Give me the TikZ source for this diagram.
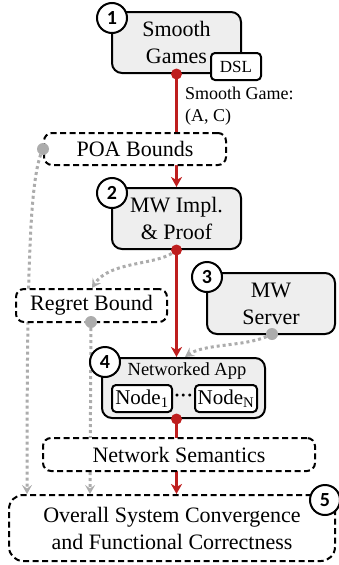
\documentclass[tikz,border=0pt]{standalone}
\usepackage{fontspec}
\setmainfont{Liberation Serif}
\newfontfamily\numfont{Carlito}
\usetikzlibrary{arrows.meta}
\pgfdeclarelayer{background}
\pgfsetlayers{background,main}
\definecolor{myred}{RGB}{190,30,30}
\definecolor{mygray}{RGB}{172,172,172}
\definecolor{boxfill}{RGB}{238,238,238}
\tikzset{
  solidbox/.style={draw=black, line width=2pt, fill=boxfill, rounded corners=10pt,
    align=center, inner sep=0pt, font=\fontsize{22}{27}\selectfont},
  dashbox/.style={draw=black, line width=2pt, fill=white, rounded corners=8pt,
    dash pattern=on 6pt off 3.5pt, align=center, inner sep=0pt,
    font=\fontsize{22}{27}\selectfont},
  smallbox/.style={draw=black, line width=2pt, fill=white, rounded corners=4pt,
    inner sep=0pt},
  numcirc/.style={circle, draw=black, line width=2pt, fill=white,
    minimum size=30pt, inner sep=0pt, font=\numfont\bfseries\fontsize{20}{20}\selectfont},
  redline/.style={draw=myred, line width=2.6pt, -{Stealth[length=10pt,width=11pt,inset=3pt]}},
  grayline/.style={draw=mygray, line width=3pt, dash pattern=on 3pt off 3pt,
    -{Stealth[length=9pt,width=10pt,inset=3.5pt]}},
  reddot/.style={circle, fill=myred, minimum size=11pt, inner sep=0pt},
  graydot/.style={circle, fill=mygray, minimum size=12pt, inner sep=0pt},
  lbl/.style={inner sep=0pt, font=\fontsize{18}{22}\selectfont, align=left}
}
\begin{document}
\begin{tikzpicture}[x=1pt,y=-1pt]
\useasboundingbox (0,0) rectangle (338,565);

% boxes
\node[solidbox, minimum width=129pt, minimum height=61pt] (b1) at (176.5,42.5) {Smooth\\Games};
\node[smallbox, minimum width=50pt, minimum height=27pt, font=\fontsize{17}{17}\selectfont] (dsl) at (236,66.5) {DSL};
\node[lbl, anchor=north west] (sg) at (185,87) {Smooth Game:\\(A, C)};

\node[dashbox, minimum width=182pt, minimum height=32pt] (poa) at (135,149) {POA Bounds};

\node[solidbox, minimum width=129pt, minimum height=61pt] (b2) at (176.5,218.5) {MW Impl.\\\& Proof};

\node[dashbox, minimum width=151pt, minimum height=33pt] (rb) at (91.5,305.5) {Regret Bound};

\node[solidbox, minimum width=128pt, minimum height=61pt] (b3) at (271,303.5) {MW\\Server};

\node[solidbox, minimum width=163pt, minimum height=60pt] (b4) at (183.5,388) {};
\node[inner sep=0pt, font=\fontsize{18.5}{18.5}\selectfont] (na) at (187,371) {Networked App};
\node[smallbox, minimum width=60pt, minimum height=27pt, font=\fontsize{21}{21}\selectfont] (n1) at (142,398.5) {Node\textsubscript{1}};
\node[smallbox, minimum width=62pt, minimum height=27pt, font=\fontsize{21}{21}\selectfont] (nN) at (226,398.5) {Node\textsubscript{N}};
\node[inner sep=0pt, font=\fontsize{18}{18}\selectfont\bfseries] (ell) at (183.5,398) {·\kern0.3pt·\kern0.3pt·};

\node[dashbox, minimum width=272pt, minimum height=33pt] (ns) at (179,454.5) {Network Semantics};

\node[dashbox, rounded corners=14pt, minimum width=326pt, minimum height=66pt] (b5) at (172,528) {Overall System Convergence\\and Functional Correctness};

% number circles
\node[numcirc] (c1) at (112,18) {1};
\node[numcirc] (c2) at (112,193) {2};
\node[numcirc] (c3) at (207,277) {3};
\node[numcirc] (c4) at (105,362) {4};
\node[numcirc] (c5) at (325,500) {5};

% dots
\node[reddot] (d1) at (b1.south) {};
\node[reddot] (d2) at (b2.south) {};
\node[reddot] (d4) at (d2 |- b4.south) {};
\node[graydot] (g1) at (poa.west) {};
\node[graydot] (g2) at (91,322) {};
\node[graydot] (g3) at (272,334) {};

\coordinate (t1) at (27,0 |- b5.north);
\coordinate (t2) at (90,0 |- b5.north);
\coordinate (t3) at (92,288);
\coordinate (t4) at (185,357);

% connectors
\begin{pgfonlayer}{background}
\draw[redline] (d1.center) -- (d1 |- b2.north);
\draw[redline] (d2.center) -- (d2 |- b4.north);
\draw[redline] (d4.center) -- (d4 |- b5.north);
\draw[grayline] (g1.center) .. controls (30,175) and (27,260) .. (t1);
\draw[grayline] (g2.center) -- (t2);
\draw[grayline] (d2.center) .. controls (160,266) and (110,260) .. (t3);
\draw[grayline] (g3.center) .. controls (250,347) and (205,343) .. (t4);
\end{pgfonlayer}
\end{tikzpicture}
\end{document}
